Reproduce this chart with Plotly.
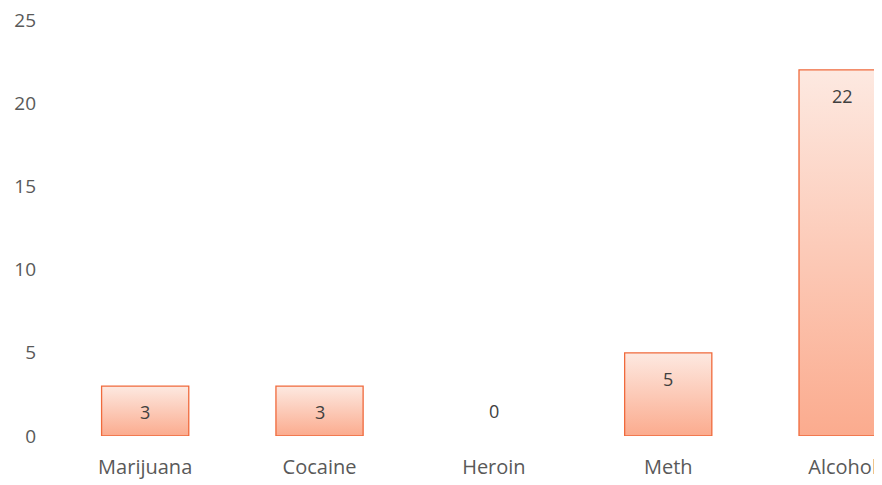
import plotly.graph_objects as go

categories = ["Marijuana", "Cocaine", "Heroin", "Meth", "Alcohol"]
values = [3, 3, 0, 5, 22]
y_ticks = [0, 5, 10, 15, 20, 25]

BAR_HALF = 0.25
FONT = "Open Sans, Liberation Sans, sans-serif"
TEXT_COLOR = "#595959"

fig = go.Figure()
for i, (cat, v) in enumerate(zip(categories, values)):
    if v <= 0:
        continue
    xs = [i - BAR_HALF, i + BAR_HALF, i + BAR_HALF, i - BAR_HALF, i - BAR_HALF]
    ys = [0, 0, v, v, 0]
    fig.add_trace(go.Scatter(
        x=xs, y=ys, mode="lines", fill="toself",
        line=dict(color="#f06a3c", width=1.3),
        fillgradient=dict(type="vertical",
                          colorscale=[[0, "#fbab8e"], [1, "#fde9e1"]]),
        hoverinfo="skip", showlegend=False, name=cat,
    ))

for i, v in enumerate(values):
    fig.add_annotation(
        x=i, y=v, text=str(v), showarrow=False,
        yanchor="middle", yshift=(-26 if v > 0 else 25),
        font=dict(family=FONT, size=18, color="#404040"),
    )

# page has an 8px body margin, so the figure is laid out shifted by 8px
fig.update_layout(
    width=882, height=485,
    margin=dict(l=50, r=8, t=12, b=57, autoexpand=False),
    paper_bgcolor="white", plot_bgcolor="white",
    font=dict(family=FONT, size=19, color=TEXT_COLOR),
    showlegend=False,
)
fig.update_xaxes(
    range=[-0.5, 4.226], tickvals=list(range(len(categories))),
    ticktext=categories, showgrid=False, zeroline=False, showline=False,
    ticks="", ticklabelstandoff=17, ticklabeloverflow="allow", automargin=False,
    tickfont=dict(family=FONT, size=20, color=TEXT_COLOR),
)
fig.update_yaxes(
    range=[0, 25], tickvals=y_ticks, showgrid=False, zeroline=False,
    showline=False, ticks="", ticklabelstandoff=21, ticklabeloverflow="allow",
    automargin=False,
    tickfont=dict(family=FONT, size=19, color=TEXT_COLOR),
)

fig.write_html("out.html")
